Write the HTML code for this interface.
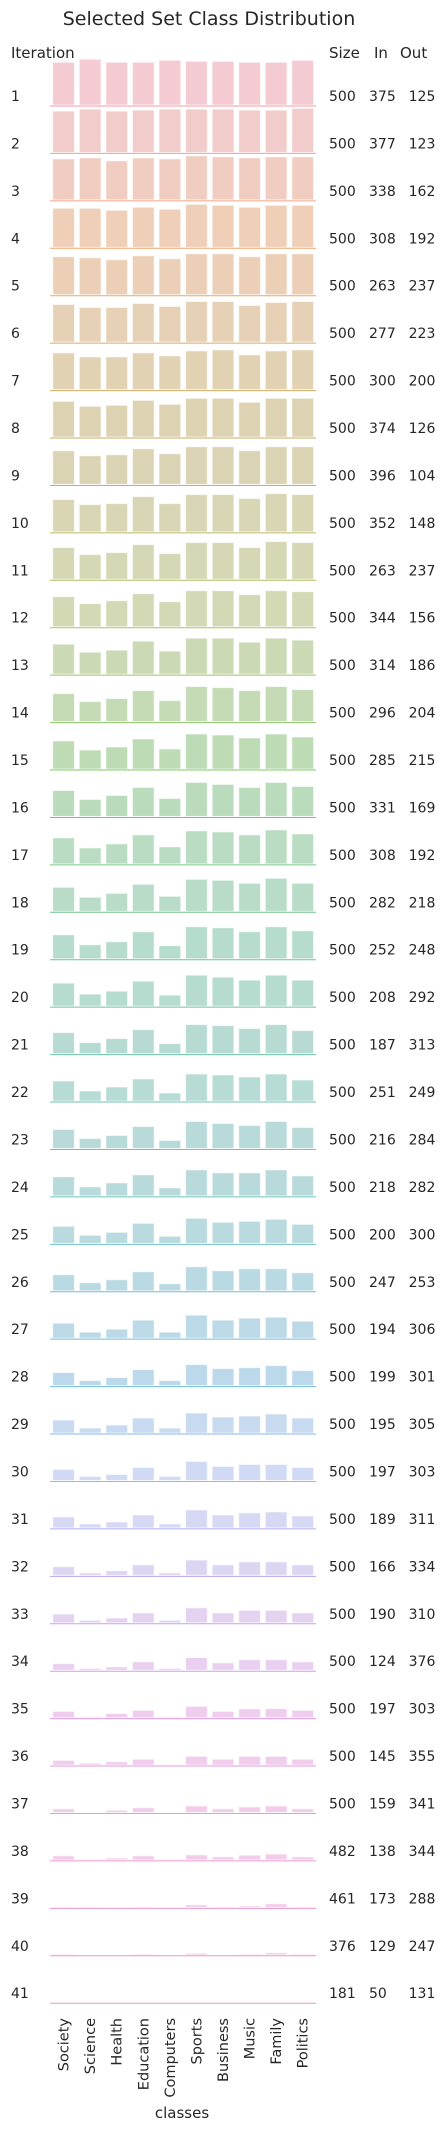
<!DOCTYPE html>
<html><head><meta charset="utf-8">
<style>
html,body{margin:0;padding:0;background:#fff;}
svg{display:block;font-family:"DejaVu Sans","Liberation Sans",sans-serif;}
</style></head>
<body>
<svg id="chart" width="444" height="2131" viewBox="0 0 444 2131" xmlns="http://www.w3.org/2000/svg">
<text x="209" y="25" font-size="19" text-anchor="middle" fill="#262626">Selected Set Class Distribution</text>
<text x="11" y="58" font-size="15" fill="#262626">Iteration</text>
<text x="329" y="58" font-size="15" fill="#262626">Size</text>
<text x="374" y="58" font-size="15" fill="#262626">In</text>
<text x="400" y="58" font-size="15" fill="#262626">Out</text>
<g id="rows"></g>
<g id="xlabels"></g>
<text x="182" y="2118" font-size="15" text-anchor="middle" fill="#262626">classes</text>
</svg>
<script>
const classes = ["Society","Science","Health","Education","Computers","Sports","Business","Music","Family","Politics"];
const sizes = [500,500,500,500,500,500,500,500,500,500,500,500,500,500,500,500,500,500,500,500,500,500,500,500,500,500,500,500,500,500,500,500,500,500,500,500,500,482,461,376,181];
const inCounts = [375,377,338,308,263,277,300,374,396,352,263,344,314,296,285,331,308,282,252,208,187,251,216,218,200,247,194,199,195,197,189,166,190,124,197,145,159,138,173,129,50];
const outCounts = [125,123,162,192,237,223,200,126,104,148,237,156,186,204,215,169,192,218,248,292,313,249,284,282,300,253,306,301,305,303,311,334,310,376,303,355,341,344,288,247,131];
const classValues = [
[42.7,45.7,42.7,42.7,44.7,43.7,43.7,42.7,42.7,44.7],
[41.3,43.3,41.3,42.3,43.3,43.3,43.3,42.3,42.3,44],
[41,42,39,42,41,44,43,42,43,43],
[39,39,37,40,38,43,42,40,42,42],
[38,37,35,39,36,41,41,38,41,41],
[37.7,34.7,34.7,38.7,35.7,40.7,40.7,36.7,39.7,40.7],
[36.7,32.7,32.7,36.7,33.7,38.7,39.7,34.7,38.7,39.7],
[35.7,30.7,31.7,36.7,32.7,38.7,38.7,34.7,38.7,38.7],
[33.7,28.7,29.7,35.7,30.7,37.7,37.7,33.7,37.7,37.7],
[32.3,27.3,28.3,35.3,28.3,37.3,37.3,33.3,38.3,37.3],
[31.7,24.7,26.7,34.7,25.7,36.7,36.7,31.7,37.7,36.7],
[30,23,26,33,25,36,36,32,36,35],
[30,22,24,33,23,36,36,32,36,34],
[28,20,23,31,21,35,34,31,35,32],
[28,19,22,30,20,35,34,31,35,32],
[26,17,21,29,18,34,32,29,34,30],
[26,16,20,29,17,33,32,29,34,30],
[24,14,18,27,15,32,31,28,33,28],
[24,14,17,27,13,32,31,27,32,28],
[23,12,15,25,11,31,29,26,31,26],
[21,11,15,24,10,29,28,25,29,23],
[20,10,14,22,8,27,26,24,27,21],
[19,10,13,22,8,27,25,23,27,21],
[19,9,13,21,8,26,23,23,26,20],
[17,8,11,20,7,25,21,22,24,19],
[16,8,11,19,7,24,20,22,22,18],
[15,6,9,18,6,23,18,20,21,17],
[13,5,8,16,5,21,17,18,20,15],
[13,5,8,15,5,20,16,17,19,15],
[11,4,6,13,4,19,14,16,16,13],
[11,4,6,13,4,18,13,15,16,12],
[8.7,2.5,4.7,10.5,2.5,15.3,10.5,13.5,13.5,10.5],
[8.7,2.5,4.7,9.8,2.5,14.9,9.8,12.4,12.4,9.8],
[6.5,1.8,3.3,8.4,1.8,12.7,7.3,10.5,10.5,8.4],
[6.2,1,4,7.3,1,11.3,6.2,8.7,9,7.3],
[4.7,1.8,3.3,5.8,0,8.7,5.8,8.7,8.7,5.8],
[3.6,0,2.2,4.7,0,6.5,3.6,5.5,6.5,3.6],
[4,0.7,1.8,4,0.7,5,3,4.7,5.8,3],
[0.5,0.5,0,0.7,0,2.5,0.7,1.5,3.5,0.7],
[0.7,0,0,0.7,0,1.5,0,0.7,2,0.7],
[0,0,0,0,0,0,0,0,0,0]
];

const NS = "http://www.w3.org/2000/svg";
const rowTop = 106, rowStep = 47.43;
const xLeft = 50, slot = 26.57, barW = 21.7;
function xScale(i){ return xLeft + slot*i + (slot-barW)/2 + 0.3; }
function rowBase(r){ return rowTop + r*rowStep; }
function yScale(v){ return v * 1.0; }

const fillAnchors = [[0,"#f4cad3"],[3,"#efcfb8"],[7,"#ddd3b3"],[11,"#d3d8b5"],[14,"#bddcb6"],[18,"#b6dccd"],[23,"#b8dadb"],[27,"#bcd9eb"],[29,"#d1daf4"],[31,"#ddd6f3"],[34,"#f0cdee"],[40,"#f6cbe3"]];
const lineAnchors = [[0,"#f59aa9"],[3,"#eda66e"],[7,"#c9ad5c"],[11,"#b0bf60"],[14,"#7cc76a"],[18,"#6cc39a"],[23,"#6bc3c3"],[27,"#70b8e6"],[29,"#a0b2ee"],[31,"#b7a5ef"],[34,"#e39ae6"],[40,"#f291c5"]];
function hex(c){return [1,3,5].map(k=>parseInt(c.substr(k,2),16));}
function interp(anch, r){
  for(let k=0;k<anch.length-1;k++){
    const [r0,c0]=anch[k],[r1,c1]=anch[k+1];
    if(r>=r0 && r<=r1){
      const t=(r-r0)/(r1-r0), a=hex(c0), b=hex(c1);
      return "rgb("+a.map((v,j)=>Math.round(v+(b[j]-v)*t)).join(",")+")";
    }
  }
  return anch[anch.length-1][1];
}

const rowsG = document.getElementById("rows");
classValues.forEach((vals, r) => {
  const base = rowBase(r);
  const g = document.createElementNS(NS,"g");
  
  
  rowsG.appendChild(g);

  const lbl = document.createElementNS(NS,"text");
  
  
  lbl.setAttribute("x", 11); lbl.setAttribute("y", base-5);
  lbl.setAttribute("font-size", "14"); lbl.setAttribute("fill", "#262626");
  lbl.textContent = String(r+1);
  g.appendChild(lbl);

  vals.forEach((v, i) => {
    const h = yScale(v);
    if (h <= 0) return;
    const rect = document.createElementNS(NS,"rect");
    
    
    rect.setAttribute("x", xScale(i).toFixed(2));
    rect.setAttribute("y", (base - 1 - h).toFixed(2));
    rect.setAttribute("width", barW);
    rect.setAttribute("height", h.toFixed(2));
    rect.setAttribute("fill", interp(fillAnchors, r));
    rect.setAttribute("stroke", "#fff");
    rect.setAttribute("stroke-opacity", "0.6");
    rect.setAttribute("stroke-width", "1");
    g.appendChild(rect);
  });

  const line = document.createElementNS(NS,"line");
  
  
  line.setAttribute("x1", xLeft); line.setAttribute("x2", 316);
  line.setAttribute("y1", base); line.setAttribute("y2", base);
  line.setAttribute("stroke", interp(lineAnchors, r));
  line.setAttribute("stroke-width", "1");
  g.appendChild(line);

  const cols = [[sizes[r], 329, "start", 'size-value'], [inCounts[r], 369, "start", 'in-value'], [outCounts[r], 422, "middle", 'out-value']];
  cols.forEach(c => {
    const t = document.createElementNS(NS,"text");
    
    
    t.setAttribute("x", c[1]); t.setAttribute("y", base-5);
    t.setAttribute("text-anchor", c[2]);
    t.setAttribute("font-size", "14"); t.setAttribute("fill", "#262626");
    t.textContent = String(c[0]);
    g.appendChild(t);
  });
});

const xg = document.getElementById("xlabels");
classes.forEach((c, i) => {
  const cx = xScale(i) + barW/2;
  const t = document.createElementNS(NS,"text");
  
  
  t.setAttribute("transform", "translate(" + (cx+5).toFixed(1) + ",2018) rotate(-90)");
  t.setAttribute("text-anchor", "end");
  t.setAttribute("font-size", "14.5"); t.setAttribute("fill", "#262626");
  t.textContent = c;
  xg.appendChild(t);
});
</script>
</body></html>
